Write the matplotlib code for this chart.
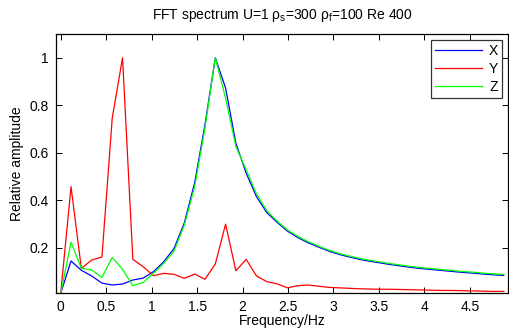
import numpy as np
import matplotlib
matplotlib.use("Agg")
import matplotlib.pyplot as plt

plt.rcParams['font.family'] = ['Liberation Sans', 'DejaVu Sans']
plt.rcParams['mathtext.fontset'] = 'custom'
plt.rcParams['mathtext.rm'] = 'Liberation Sans'
plt.rcParams['mathtext.it'] = 'Liberation Sans:italic'
plt.rcParams['mathtext.default'] = 'regular'

freq_step = 1.7 / 15
n_points = 44
freq = np.arange(n_points) * freq_step

x_amp = [0.008, 0.144, 0.105, 0.081, 0.051, 0.043, 0.047, 0.064, 0.072, 0.099,
         0.141, 0.197, 0.305, 0.474, 0.718, 1.0, 0.873, 0.64, 0.514, 0.415,
         0.348, 0.307, 0.27, 0.243, 0.221, 0.203, 0.186, 0.172, 0.161, 0.151,
         0.143, 0.136, 0.129, 0.123, 0.117, 0.112, 0.108, 0.104, 0.100, 0.096,
         0.093, 0.089, 0.086, 0.083]
y_amp = [0.008, 0.457, 0.113, 0.148, 0.161, 0.746, 1.0, 0.151, 0.12, 0.082,
         0.092, 0.088, 0.071, 0.089, 0.067, 0.131, 0.299, 0.103, 0.151, 0.081,
         0.057, 0.048, 0.031, 0.040, 0.043, 0.038, 0.033, 0.031, 0.029, 0.027,
         0.026, 0.025, 0.025, 0.024, 0.023, 0.022, 0.021, 0.020, 0.020, 0.019,
         0.018, 0.017, 0.016, 0.016]
z_amp = [0.008, 0.223, 0.114, 0.106, 0.075, 0.159, 0.109, 0.040, 0.054, 0.092,
         0.134, 0.186, 0.296, 0.457, 0.704, 1.0, 0.83, 0.626, 0.528, 0.427,
         0.356, 0.312, 0.275, 0.248, 0.226, 0.207, 0.190, 0.176, 0.165, 0.155,
         0.147, 0.140, 0.133, 0.127, 0.121, 0.116, 0.112, 0.108, 0.104, 0.100,
         0.097, 0.093, 0.090, 0.087]

x_ticks = [0, 0.5, 1, 1.5, 2, 2.5, 3, 3.5, 4, 4.5]
x_ticklabels = ['0', '0.5', '1', '1.5', '2', '2.5', '3', '3.5', '4', '4.5']
y_ticks = [0.2, 0.4, 0.6, 0.8, 1.0]
y_ticklabels = ['0.2', '0.4', '0.6', '0.8', '1']

fig = plt.figure(figsize=(5.09, 3.36), dpi=100)
ax = fig.add_axes([56/509, 1 - 293.3/336, (508 - 56)/509, (293.3 - 34)/336])

lw = 0.9
ax.plot(freq, x_amp, color='#0000ff', lw=lw, label='X')
ax.plot(freq, y_amp, color='#ff0000', lw=lw, label='Y')
ax.plot(freq, z_amp, color='#00ff00', lw=lw, label='Z')

ax.set_xlim(-0.052, 4.92)
ax.set_ylim(0.008, 1.1)
ax.set_xticks(x_ticks)
ax.set_xticklabels(x_ticklabels)
ax.set_yticks(y_ticks)
ax.set_yticklabels(y_ticklabels)
ax.tick_params(direction='in', top=True, right=True, labelsize=10, length=4, width=0.7, pad=5)
for s in ax.spines.values():
    s.set_linewidth(0.9)

ax.set_xlabel('Frequency/Hz', fontsize=10, labelpad=0)
ax.set_ylabel('Relative amplitude', fontsize=10, labelpad=4)
ax.set_title('FFT spectrum U=1 ρ$_s$=300 ρ$_f$=100 Re 400', fontsize=10, pad=11)

leg = ax.legend(loc='upper right', fontsize=10, frameon=True, fancybox=False,
                edgecolor='black', handlelength=3.4, borderaxespad=0.4,
                labelspacing=0.3, handletextpad=0.5, borderpad=0.3)
leg.get_frame().set_linewidth(0.9)

fig.savefig('out.png', dpi=100)
